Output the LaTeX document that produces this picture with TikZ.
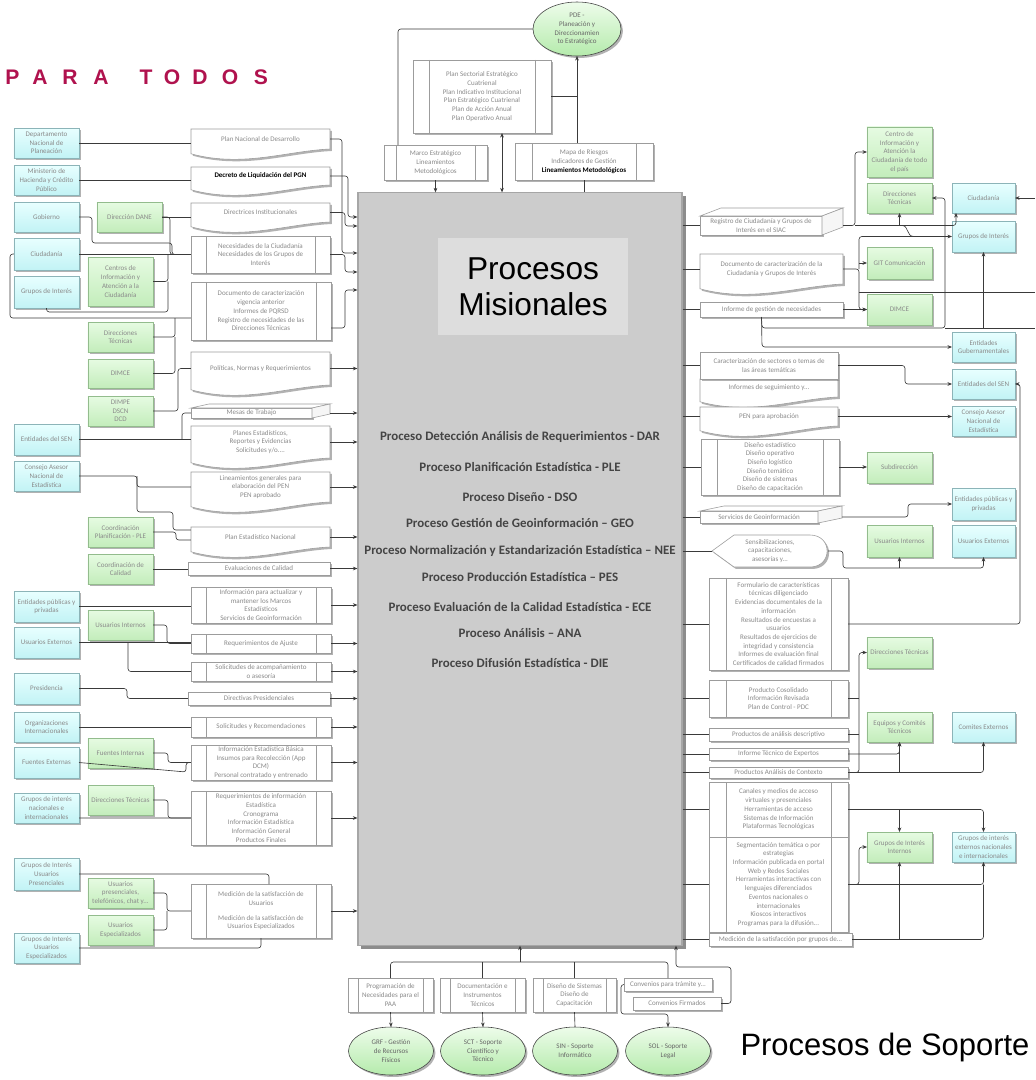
\documentclass[tikz,border=0pt]{standalone}
\usepackage{fontspec}
\setmainfont{Carlito}
\newfontfamily\arialf{Liberation Sans}
\usetikzlibrary{shapes.geometric,shadows,arrows.meta,backgrounds}

\definecolor{cyantop}{HTML}{E8FFFF}
\definecolor{cyanbot}{HTML}{C2F3F5}
\definecolor{cyanline}{HTML}{8CB4B8}
\definecolor{greentop}{HTML}{E6FBE2}
\definecolor{greenbot}{HTML}{C3EDBB}
\definecolor{greenline}{HTML}{93BC8D}
\definecolor{txt}{HTML}{8A8A8A}
\definecolor{boxline}{HTML}{9C9C9C}
\definecolor{lin}{HTML}{3A3A3A}
\definecolor{misfill}{HTML}{CCCCCC}
\definecolor{misline}{HTML}{A6A6A6}
\definecolor{titfill}{HTML}{DDDDDD}
\definecolor{proccol}{HTML}{444444}
\definecolor{todos}{HTML}{B0124E}
\definecolor{ovaltop}{HTML}{EDFCEA}
\definecolor{ovalbot}{HTML}{B5EBAC}

\newcommand\tinytxt{\fontsize{5}{6.2}\selectfont}

% inner bars of a process box
\newcommand\sidebars[2]{\draw[boxline,line width=0.4pt] ([xshift=#2]#1.north west) -- ([xshift=#2]#1.south west)
  ([xshift=-#2]#1.north east) -- ([xshift=-#2]#1.south east);}
% document with wavy bottom
\newcommand\wavedoc[1]{\begin{pgfonlayer}{background}
  \filldraw[docshape] (#1.north west) -- (#1.north east) -- (#1.south east)
    .. controls +(-1.1cm,-0.05cm) and +(1.3cm,-0.35cm) .. ([yshift=-0.12cm]#1.south west) -- cycle;
  \end{pgfonlayer}}
% 3-D box faces
\newcommand\boxthree[3]{%
  \filldraw[boxline,line width=0.4pt,fill=white] (#1.north west) -- ([shift={(#2,#3)}]#1.north west)
    -- ([shift={(#2,#3)}]#1.north east) -- (#1.north east) -- cycle;
  \filldraw[boxline,line width=0.4pt,fill=gray!7] (#1.north east) -- ([shift={(#2,#3)}]#1.north east)
    -- ([shift={(#2,#3)}]#1.south east) -- (#1.south east) -- cycle;}
% display shape
\newcommand\dispshape[1]{\begin{pgfonlayer}{background}
  \filldraw[docshape] (#1.west) -- ([xshift=0.55cm]#1.north west) -- ([xshift=-0.45cm]#1.north east)
    .. controls ([xshift=0.12cm]#1.north east) and ([xshift=0.12cm]#1.south east) .. ([xshift=-0.45cm]#1.south east)
    -- ([xshift=0.55cm]#1.south west) -- cycle;
  \end{pgfonlayer}}

\begin{document}
\begin{tikzpicture}[x=0.025cm,y=-0.025cm]
    \tikzstyle{shad}=[drop shadow={shadow xshift=1.4pt,shadow yshift=-1.4pt,opacity=0.3,fill=black}]
    \tikzstyle{base}=[font=\tinytxt, text=txt, align=center, inner sep=0.5pt, outer sep=0pt]
    \tikzstyle{cbox}=[base, rectangle, draw=cyanline, top color=cyantop, bottom color=cyanbot, shad,
                      minimum width=1.625cm, minimum height=0.75cm]
    \tikzstyle{gbox}=[base, rectangle, draw=greenline, top color=greentop, bottom color=greenbot, shad,
                      minimum width=1.625cm, minimum height=0.75cm]
    \tikzstyle{pbox}=[base, rectangle, draw=boxline, line width=0.4pt, fill=white, shad, minimum width=3.475cm]
    \tikzstyle{tape}=[pbox]
    \tikzstyle{wdoc}=[base, rectangle, minimum width=3.475cm]
    \tikzstyle{docshape}=[draw=boxline, line width=0.4pt, fill=white, shad]
    \tikzstyle{oval}=[base, ellipse, draw=black!75, line width=0.4pt, top color=ovaltop, bottom color=ovalbot, shad,
                      minimum width=2.125cm, minimum height=1.2cm, text=black!60]
    \tikzstyle{ptxt}=[font=\fontsize{9.2}{10}\selectfont\bfseries, text=proccol, inner sep=0pt]
    \tikzstyle{titl}=[font=\arialf\bfseries\fontsize{15}{15}\selectfont, text=todos, inner sep=0pt]
    \tikzstyle{conn}=[draw=lin, line width=0.45pt, rounded corners=2pt]
    \tikzstyle{arr}=[conn, -{Stealth[length=3.2pt,width=2.6pt]}]

    \begin{pgfonlayer}{background}
    \fill[white] (0,0) rectangle (1035,1080);
    \end{pgfonlayer}
    \useasboundingbox (0,0) rectangle (1035,1080);

    \foreach \l/\x [count=\i] in {P/12.5,A/40,R/70,A/101,T/146,O/172,D/200,O/230,S/261}
        \node[titl] (ttl\i) at (\x,77) {\l};

    \node[rectangle, draw=misline, line width=0.8pt, fill=misfill, minimum width=8.1cm, minimum height=18.8cm,
          drop shadow={shadow xshift=2.5pt,shadow yshift=-2.5pt,opacity=0.45,fill=black}] (mis) at (520,569) {};
    \node[fill=titfill, minimum width=4.75cm, minimum height=2.425cm, align=center,
          font=\arialf\fontsize{22.5}{25.5}\selectfont] (tit) at (533,286.5) {Procesos\\Misionales};
    \foreach \t/\y [count=\i] in {Proceso Detección Análisis de Requerimientos - DAR/437,
                                  Proceso Planificación Estadística - PLE/467,
                                  Proceso Diseño - DSO/497,
                                  Proceso Gestión de Geoinformación – GEO/523,
                                  Proceso Normalización y Estandarización Estadística – NEE/551,
                                  Proceso Producción Estadística – PES/577,
                                  Proceso Evaluación de la Calidad Estadística - ECE/607,
                                  Proceso Análisis – ANA/633,
                                  Proceso Difusión Estadística - DIE/663}
        \node[ptxt] (pr\i) at (520,\y) {\t};

    % top
    \node[oval, minimum width=2.2cm, minimum height=1.35cm] (pde) at (577,29) {PDE -\\Planeación y\\Direccionamien\\to Estratégico};
    \node[pbox, minimum width=3.45cm, minimum height=1.825cm] (plansec) at (482,96.5)
        {Plan Sectorial Estratégico\\Cuatrienal\\Plan Indicativo Institucional\\Plan Estratégico Cuatrienal\\Plan de Acción Anual\\Plan Operativo Anual};
    \sidebars{plansec}{0.4cm}
    \node[pbox, minimum width=2.575cm, minimum height=0.875cm] (marco) at (435.5,162.5) {Marco Estratégico\\Lineamientos\\Metodológicos};
    \sidebars{marco}{0.3cm}
    \node[pbox, minimum width=3.45cm, minimum height=0.925cm] (mapa) at (584,161.5)
        {Mapa de Riesgos\\Indicadores de Gestión\\{\color{black}\bfseries Lineamientos Metodológicos}};
    \sidebars{mapa}{0.425cm}

    % left sources
    \node[cbox] (dnp) at (46.5,143) {Departamento\\Nacional de\\Planeación};
    \node[cbox] (minhac) at (46.5,180) {Ministerio de\\Hacienda y Crédito\\Público};
    \node[cbox] (gob) at (46.5,217) {Gobierno};
    \node[cbox, minimum height=0.8cm] (ciud) at (46.5,254) {Ciudadanía};
    \node[cbox, minimum height=0.8cm] (grint) at (46.5,292) {Grupos de Interés};
    \node[cbox, minimum height=0.775cm] (esen) at (46.5,439.5) {Entidades del SEN};
    \node[cbox] (can) at (46.5,476) {Consejo Asesor\\Nacional de\\Estadística};
    \node[cbox, minimum height=0.775cm] (epp) at (46.5,606.5) {Entidades públicas y\\privadas};
    \node[cbox, minimum height=0.775cm] (uext) at (46.5,642.5) {Usuarios Externos};
    \node[cbox, minimum height=0.775cm] (pres) at (46.5,688.5) {Presidencia};
    \node[cbox] (oint) at (46.5,727) {Organizaciones\\Internacionales};
    \node[cbox, minimum height=0.775cm] (fext) at (46.5,762.5) {Fuentes Externas};
    \node[cbox] (gnac) at (46.5,808) {Grupos de interés\\nacionales e\\internacionales};
    \node[cbox, minimum height=0.8cm] (gpres) at (46.5,874) {Grupos de Interés\\Usuarios\\Presenciales};
    \node[cbox] (gesp) at (46.5,948) {Grupos de Interés\\Usuarios\\Especializados};

    \node[gbox] (dane) at (129.5,217) {Dirección DANE};
    \node[gbox, minimum height=1.225cm] (centros) at (120.5,281.5) {Centros de\\Información y\\Atención a la\\Ciudadanía};
    \node[gbox] (dtec) at (120.5,337) {Direcciones\\Técnicas};
    \node[gbox, minimum height=0.725cm] (dimce) at (120.5,373.5) {DIMCE};
    \node[gbox] (dimpe) at (120.5,411) {DIMPE\\DSCN\\DCD};
    \node[gbox] (cple) at (120.5,532) {Coordinación\\Planificación - PLE};
    \node[gbox] (ccal) at (120.5,569) {Coordinación de\\Calidad};
    \node[gbox] (uint) at (120.5,625) {Usuarios Internos};
    \node[gbox] (fint) at (120.5,753) {Fuentes Internas};
    \node[gbox] (dtec2) at (120.5,800) {Direcciones Técnicas};
    \node[gbox] (upres) at (120.5,893) {Usuarios\\presenciales,\\telefónicos, chat y...};
    \node[gbox] (uesp) at (120.5,930) {Usuarios\\Especializados};

    % left inputs
    \node[wdoc, minimum height=0.5cm] (pnd) at (260.5,139) {Plan Nacional de Desarrollo};
    \wavedoc{pnd}
    \node[wdoc, minimum height=0.45cm] (decreto) at (260.5,176) {{\color{black}\bfseries Decreto de Liquidación del PGN}};
    \wavedoc{decreto}
    \node[wdoc, minimum height=0.475cm] (direc) at (260.5,212.5) {Directrices Institucionales};
    \wavedoc{direc}
    \node[pbox, minimum height=0.925cm] (necs) at (260.5,254.5) {Necesidades de la Ciudadanía\\Necesidades de los Grupos de\\Interés};
    \sidebars{necs}{0.375cm}
    \node[pbox, minimum width=3.5cm, minimum height=1.45cm] (docvig) at (261,311)
        {Documento de caracterización\\vigencia anterior\\Informes de PQRSD\\Registro de necesidades de las\\Direcciones Técnicas};
    \sidebars{docvig}{0.375cm}
    \node[wdoc, minimum height=0.825cm] (polit) at (260.5,368.5) {Políticas, Normas y Requerimientos};
    \wavedoc{polit}
    \node[pbox, minimum width=3.025cm, minimum height=0.25cm] (mesas) at (251.5,413) {Mesas de Trabajo};
    \boxthree{mesas}{0.45cm}{0.1cm}
    \node[wdoc, minimum height=0.8cm] (planes) at (260.5,442) {Planes Estadísticos,\\Reportes y Evidencias\\Solicitudes y/o....};
    \wavedoc{planes}
    \node[wdoc, minimum height=0.75cm] (linea) at (260.5,487) {Lineamientos generales para\\elaboración del PEN\\PEN aprobado};
    \wavedoc{linea}
    \node[wdoc, minimum height=0.5cm] (pen) at (260.5,537) {Plan Estadístico Nacional};
    \wavedoc{pen}
    \node[tape, minimum width=3.55cm, minimum height=0.325cm] (evalc) at (259,568.5) {Evaluaciones de Calidad};
    \node[pbox, minimum width=3.5cm, minimum height=0.9cm] (infomarcos) at (261,605)
        {Información para actualizar y\\mantener los Marcos\\Estadísticos\\Servicios de Geoinformación};
    \sidebars{infomarcos}{0.375cm}
    \node[pbox, minimum width=3.5cm, minimum height=0.475cm] (reqaj) at (261,643.5) {Requerimientos de Ajuste};
    \sidebars{reqaj}{0.375cm}
    \node[pbox, minimum width=3.5cm, minimum height=0.475cm] (solac) at (261,671.5) {Solicitudes de acompañamiento\\o asesoría};
    \sidebars{solac}{0.375cm}
    \node[tape, minimum width=3.55cm, minimum height=0.325cm] (dirpres) at (259,698.5) {Directivas Presidenciales};
    \node[pbox, minimum width=3.5cm, minimum height=0.5cm] (solrec) at (261,727) {Solicitudes y Recomendaciones};
    \sidebars{solrec}{0.375cm}
    \node[pbox, minimum width=3.5cm, minimum height=0.875cm] (infoest) at (261,762.5)
        {Información Estadística Básica\\Insumos para Recolección (App\\DCM)\\Personal contratado y entrenado};
    \sidebars{infoest}{0.375cm}
    \node[pbox, minimum width=3.5cm, minimum height=1.35cm] (reqinf) at (261,818)
        {Requerimientos de información\\Estadística\\Cronograma\\Información Estadística\\Información General\\Productos Finales};
    \sidebars{reqinf}{0.375cm}
    \node[pbox, minimum width=3.5cm, minimum height=1.35cm] (medsat) at (261,911)
        {Medición de la satisfacción de\\Usuarios\\[4pt]Medición de la satisfacción de\\Usuarios Especializados};
    \sidebars{medsat}{0.375cm}

    % right outputs
    \node[pbox, minimum width=3.05cm, minimum height=0.475cm] (regsiac) at (761,225.5) {Registro de Ciudadanía y Grupos de\\Interés en el SIAC};
    \boxthree{regsiac}{0.525cm}{0.2cm}
    \node[wdoc, minimum width=3.575cm, minimum height=0.75cm] (doccar) at (771.5,269)
        {Documento de caracterización de la\\Ciudadanía y Grupos de Interés};
    \wavedoc{doccar}
    \node[tape, minimum width=3.575cm, minimum height=0.375cm] (infgest) at (771.5,309.5) {Informe de gestión de necesidades};
    \node[pbox, minimum width=3.45cm, minimum height=0.675cm] (carsec) at (769,365.5)
        {Caracterización de sectores o temas de\\las áreas temáticas};
    \node[wdoc, minimum width=3.45cm, minimum height=0.45cm] (infseg) at (769,388) {Informes de seguimiento y...};
    \wavedoc{infseg}
    \node[wdoc, minimum width=3.45cm, minimum height=0.475cm] (penapr) at (769,416.5) {PEN para aprobación};
    \wavedoc{penapr}
    \node[pbox, minimum width=3.45cm, minimum height=1.4cm] (disenos) at (770,467)
        {Diseño estadístico\\Diseño operativo\\Diseño logístico\\Diseño temático\\Diseño de sistemas\\Diseño de capacitación};
    \sidebars{disenos}{0.4cm}
    \node[pbox, minimum width=2.95cm, minimum height=0.3cm] (servgeo) at (759,517) {Servicios de Geoinformación};
    \boxthree{servgeo}{0.6cm}{0.125cm}
    \node[base, minimum width=2.9cm, minimum height=0.8cm] (sensib) at (770,551) {Sensibilizaciones,\\capacitaciones,\\asesorías y...};
    \dispshape{sensib}
    \node[pbox, minimum height=2.3cm] (formul) at (778.5,624)
        {Formulario de características\\técnicas diligenciado\\Evidencias documentales de la\\información\\Resultados de encuestas a\\usuarios\\Resultados de ejercicios de\\integridad y consistencia\\Informes de evaluación final\\Certificados de calidad firmados};
    \sidebars{formul}{0.425cm}
    \node[pbox, minimum height=0.925cm] (prodcons) at (778.5,698.5) {Producto Cosolidado\\Información Revisada\\Plan de Control - PDC};
    \sidebars{prodcons}{0.425cm}
    \node[tape, minimum height=0.325cm] (proddesc) at (778.5,734.5) {Productos de análisis descriptivo};
    \node[tape, minimum height=0.3cm] (inftec) at (778.5,754) {Informe Técnico de Expertos};
    \node[tape, minimum height=0.275cm] (prodctx) at (778.5,772.5) {Productos Análisis de Contexto};
    \node[pbox, minimum height=1.375cm] (canales) at (778.5,809.5)
        {Canales y medios de acceso\\virtuales y presenciales\\Herramientas de acceso\\Sistemas de Información\\Plataformas Tecnológicas};
    \sidebars{canales}{0.425cm}
    \node[pbox, minimum height=2.375cm] (segm) at (778.5,884.5)
        {Segmentación temática o por\\estrategias\\Información publicada en portal\\Web y Redes Sociales\\Herramientas interactivas con\\lenguajes diferenciados\\Eventos nacionales o\\internacionales\\Kioscos interactivos\\Programas para la difusión...};
    \sidebars{segm}{0.425cm}
    \node[tape, minimum width=3.575cm, minimum height=0.325cm] (medgr) at (780.5,939.5) {Medición de la satisfacción por grupos de...};

    % right targets
    \node[gbox, minimum height=1.25cm] (centro) at (899.5,152) {Centro de\\Información y\\Atención la\\Ciudadanía de todo\\el país};
    \node[gbox] (dtecR) at (899.5,198) {Direcciones\\Técnicas};
    \node[gbox, minimum height=0.8cm] (git) at (899.5,263) {GIT Comunicación};
    \node[gbox, minimum height=0.775cm] (dimceR) at (899.5,309.5) {DIMCE};
    \node[gbox, minimum height=0.775cm] (subd) at (899.5,467.5) {Subdirección};
    \node[gbox, minimum height=0.8cm] (uintR) at (899.5,541) {Usuarios Internos};
    \node[gbox, minimum height=0.775cm] (dtecR2) at (899.5,652.5) {Direcciones Técnicas};
    \node[gbox] (equipos) at (899.5,727) {Equipos y Comités\\Técnicos};
    \node[gbox] (gii) at (899.5,847) {Grupos de Interés\\Internos};
    \node[cbox, minimum width=1.575cm] (ciudR) at (983.5,198) {Ciudadanía};
    \node[cbox, minimum width=1.575cm, minimum height=0.775cm] (grintR) at (983.5,236.5) {Grupos de Interés};
    \node[cbox, minimum width=1.575cm] (egub) at (983.5,347) {Entidades\\Gubernamentales};
    \node[cbox, minimum width=1.575cm] (esenR) at (983.5,384) {Entidades del SEN};
    \node[cbox, minimum width=1.575cm] (canR) at (983.5,421) {Consejo Asesor\\Nacional de\\Estadística};
    \node[cbox, minimum width=1.575cm, minimum height=0.8cm] (eppR) at (983.5,504) {Entidades públicas y\\privadas};
    \node[cbox, minimum width=1.575cm, minimum height=0.8cm] (uextR) at (983.5,541) {Usuarios Externos};
    \node[cbox, minimum width=1.575cm] (comext) at (983.5,727) {Comites Externos};
    \node[cbox, minimum width=1.575cm] (gie) at (983.5,847) {Grupos de interés\\externos nacionales\\e internacionales};

    % support
    \node[pbox, minimum width=2.125cm, minimum height=0.85cm] (prog) at (390.5,995) {Programación de\\Necesidades para el\\PAA};
    \sidebars{prog}{0.25cm}
    \node[pbox, minimum width=2.125cm, minimum height=0.85cm] (docins) at (482.5,995) {Documentación e\\Instrumentos\\Técnicos};
    \sidebars{docins}{0.25cm}
    \node[pbox, minimum width=2.075cm, minimum height=0.85cm] (dissis) at (574.5,995) {Diseño de Sistemas\\Diseño de\\Capacitación};
    \sidebars{dissis}{0.25cm}
    \node[tape, minimum width=2.2cm, minimum height=0.325cm] (convtr) at (668,984.5) {Convenios para trámite y...};
    \node[tape, minimum width=2.2cm, minimum height=0.325cm] (convf) at (677,1003.5) {Convenios Firmados};
    \node[oval] (grf) at (391,1051) {GRF - Gestión\\de Recursos\\Físicos};
    \node[oval] (sct) at (483,1051) {SCT - Soporte\\Científico y\\Técnico};
    \node[oval] (sin) at (575,1051) {SIN - Soporte\\Informático};
    \node[oval] (sol) at (668,1051) {SOL - Soporte\\Legal};
    \node[font=\arialf\fontsize{22}{24}\selectfont, inner sep=0pt] (sop) at (885,1047) {Procesos de Soporte};

    % connectors top
    \draw[conn] ([xshift=-0.9375cm]marco.north) |- (pde.west);
    \draw[arr] (mapa.north -| pde.south) -- (pde.south);
    \draw[conn] (plansec.east) -- (plansec.east -| pde.south);
    \draw[arr] (marco.south) -- (marco.south |- mis.north);
    \coordinate (pj) at ([xshift=0.5cm]plansec.south);
    \draw[arr, {Stealth[length=3.2pt,width=2.6pt]}-{Stealth[length=3.2pt,width=2.6pt]}] (pj) -- (pj |- mis.north);
    \draw[conn] (mapa.south) -- (mapa.south |- mis.north);

    % connectors left
    \draw[conn] (dnp.east) -- (dnp.east -| pnd.west);
    \draw[conn] (minhac.east) -- (minhac.east -| decreto.west);
    \draw[conn] (gob.east) -- (92,217) -- (92,243) -- (172,243) -- (172,254.5) -- (necs.west);
    \draw[conn] (dane.east) -- (dane.east -| direc.west);
    \draw[conn] (dane.east) -- (170,217) -- (170,254.5) -- (necs.west);
    \draw[conn] (ciud.east) -- (ciud.east -| necs.west);
    \draw[conn] (centros.east) -- (168,281.5) -- (168,254.5);
    \draw[conn] (grint.south) |- (168,312) -- (168,281.5);
    \draw[conn] ([yshift=-0.175cm]docvig.west) -- (10,318) -- (10,254) -- (ciud.west);
    \draw[conn] (dtec.east) -- (175,337) -- (175,318);
    \draw[conn] (dimce.east) -- (175,373.5) -- (175,337);
    \draw[conn] (dimpe.east) -- (178,411) -- (178,368.5) -- (polit.west);
    \draw[conn] (esen.east) -- (esen.east -| planes.west);
    \draw[conn] (182,439.5) -- (182,413) -- (mesas.west);
    \draw[conn] (can.east) -- (137,476) -- (137,512) -- (173,512) -- (173,530) -- ([yshift=0.175cm]pen.west);
    \draw[conn] (137,476) -- (137,487) -- (linea.west);
    \draw[conn] (cple.east) -- (176,532) -- (176,540) -- ([yshift=-0.075cm]pen.west);
    \draw[conn] (ccal.east) -- (ccal.east -| evalc.west);
    \draw[conn] (epp.east) -- (epp.east -| infomarcos.west);
    \draw[conn] (uint.east) -- (167,625) -- (167,643.5) -- (reqaj.west);
    \draw[conn] (uext.east) -- (uext.east -| reqaj.west);
    \draw[conn] (128,642.5) -- (128,671.5) -- (solac.west);
    \draw[conn] (pres.east) -- (127,688.5) -- (127,698.5) -- (dirpres.west);
    \draw[conn] (oint.east) -- (oint.east -| solrec.west);
    \draw[conn] (fint.east) -- (168,753) -- (168,762.5) -- (infoest.west);
    \draw[conn] (fext.east) -- (186,772) -- (186,762.5) -- (infoest.west);
    \draw[conn] (dtec2.east) -- (168,800) -- (168,818) -- (reqinf.west);
    \draw[conn] ([yshift=-0.25cm]gnac.east) -- (reqinf.west);
    \draw[conn] (gpres.east) -| ([xshift=0.2cm]medsat.north);
    \draw[conn] (upres.east) -- (167,893) -- (167,911) -- (medsat.west);
    \draw[conn] (uesp.east) -- (167,930) -- (167,911);
    \draw[conn] (gesp.east) -| (medsat.south);

    \draw[arr] (pnd.east) -- (342,139) -- (342,253) -- (mis.west |- 0,253);
    \draw[arr] (decreto.east) -- (348,176) -- (348,217) -- (mis.west |- 0,217);
    \draw[arr] (direc.east) -- (345,212.5) -- (345,226) -- (mis.west |- 0,226);
    \draw[arr] (necs.east) -- (345,254.5) -- (345,272) -- (mis.west |- 0,272);
    \draw[arr] ([yshift=-0.425cm]docvig.east) -- (345,328) -- (345,290) -- (mis.west |- 0,290);
    \foreach \n in {polit,planes,linea,pen,evalc,infomarcos,reqaj,solac,dirpres,solrec,infoest,reqinf,medsat}
        \draw[arr] (\n.east) -- (\n.east -| mis.west);
    \draw[arr] ([xshift=0.45cm]mesas.east) -- (mesas.east -| mis.west);

    % connectors right
    \foreach \n in {regsiac,doccar,infgest,carsec,penapr,disenos,servgeo,sensib,formul,prodcons,proddesc,inftec,prodctx,canales,segm,medgr}
        \draw[conn] (mis.east |- \n.west) -- (\n.west);

    \draw[arr] ([xshift=0.525cm]regsiac.east) -- (855,225.5) -- (855,152) -- (centro.west);
    \draw[arr] (855,225.5) -| ([xshift=0.1cm]ciudR.south west);
    \draw[arr] (dtecR.south |- regsiac.east) -- (dtecR.south);
    \draw[conn] (902,225.5) .. controls (909,225.5) and (906,236.5) .. (914,236.5);
    \draw[arr] (doccar.east) -- (859,269) -- (859,309.5) -- (dimceR.west);
    \draw[arr] (859,269) -- (859,236.5) -- (grintR.west);
    \draw[arr] (git.west -| 859,0) -- (git.west);
    \draw[arr] (infgest.east) -- (dimceR.west);
    \draw[arr] ([xshift=-0.25cm]infgest.south) -- (762,347) -- (egub.west);
    \draw[arr] ([xshift=-0.25cm]infgest.south) -- (762,328) -- (945,328) -- (945,198) -- (dtecR.east);
    \draw[arr] (grintR.south |- 0,328) -- (grintR.south);
    \coordinate (edgeA) at (1035,328);
    \coordinate (edgeB) at (1035,292);
    \coordinate (edgeC) at (1035,198);
    \draw[conn] (945,328) -- (edgeA);
    \draw[conn] (859,292) -- (edgeB);
    \draw[arr] (edgeC) -- (ciudR.east);

    \draw[arr] (carsec.east) -- (905,365.5) -- (905,384) -- (esenR.west);
    \draw[arr] (penapr.east) -- (penapr.east -| canR.west);
    \draw[arr] (disenos.east) -- (disenos.east -| subd.west);
    \draw[arr] ([xshift=0.6cm]servgeo.east) -- (908,517) -- (908,504) -- (eppR.west);
    \draw[arr] (sensib.east) -- (843,551) -- (843,568) -- (983.5,568) -- (uextR.south);
    \draw[arr] (uintR.south |- 0,568) -- (uintR.south);
    \draw[arr] (formul.east) -- (1020,624) -- (1020,384) -- (esenR.east);
    \draw[arr] (prodctx.east) -- (859,772.5) -- (859,652.5) -- (dtecR2.west);
    \draw[conn] (prodcons.east) -- (859,698.5);
    \draw[conn] (proddesc.east) -- (859,734.5);
    \draw[arr] (inftec.east) -| (equipos.south);
    \draw[arr] (prodctx.east) -| (comext.south);
    \draw[arr] (equipos.south |- prodctx.east) -- (equipos.south);
    \draw[arr] (canales.east) -| (gie.north);
    \draw[arr] (gii.north |- canales.east) -- (gii.north);
    \draw[arr] (segm.east) -| (gie.south);
    \draw[arr] (gii.south |- segm.east) -- (gii.south);
    \draw[arr] (segm.east) -- (859,884.5) -- (859,847) -- (gii.west);
    \draw[conn] (medgr.east) -- (983.5,939.5) -- (983.5,884.5);
    \draw[conn] (899.5,939.5) -- (899.5,884.5);

    % connectors bottom
    \draw[conn] (prog.north) |- (convtr.north |- 0,962) -- (convtr.north);
    \draw[conn] (docins.north) -- (docins.north |- 0,962);
    \draw[conn] (dissis.north) -- (dissis.north |- 0,962);
    \draw[arr] (mis.south |- 0,962) -- (mis.south);
    \draw[arr] (convf.east) -- (731,1003.5) -- (731,967) -- (676,967) -- (mis.south -| 676,0);
    \draw[arr] (prog.south) -- (grf.north);
    \draw[arr] (docins.south) -- (sct.north);
    \draw[conn] (dissis.south) -- (sin.north);
    \draw[arr] (convtr.west) -- ++(-3,0) |- (sol.north |- 0,1014) -- (sol.north);

\end{tikzpicture}
\end{document}
